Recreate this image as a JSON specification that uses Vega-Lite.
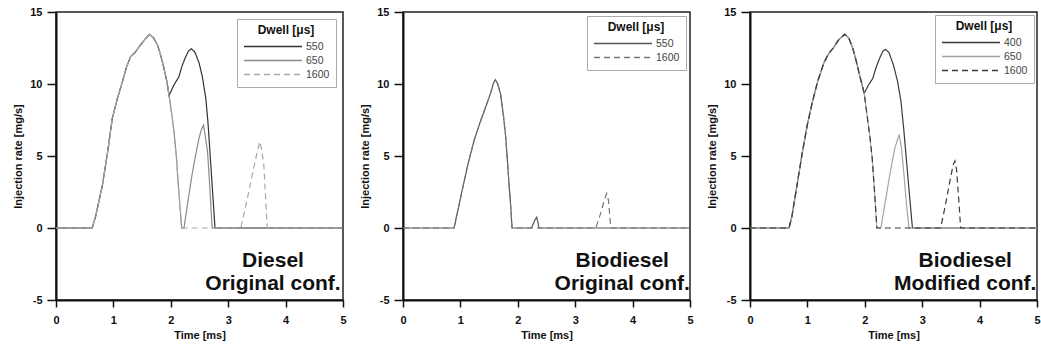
{
  "$schema": "https://vega.github.io/schema/vega-lite/v6.json",
  "background": "white",
  "padding": {"left": 12, "top": 5, "right": 2, "bottom": 2},
  "spacing": 60,
  "bounds": "flush",
  "resolve": {"scale": {"color": "independent", "strokeDash": "independent"}, "legend": {"color": "independent", "strokeDash": "independent"}},
  "datasets": {
    "diesel": [
      {"dwell":"550","time":0,"rate":0},{"dwell":"550","time":0.63,"rate":0},{"dwell":"550","time":0.69,"rate":0.8},{"dwell":"550","time":0.81,"rate":3.0},{"dwell":"550","time":0.9,"rate":5.3},{"dwell":"550","time":0.98,"rate":7.6},{"dwell":"550","time":1.07,"rate":9.0},{"dwell":"550","time":1.16,"rate":10.2},{"dwell":"550","time":1.23,"rate":11.2},{"dwell":"550","time":1.3,"rate":11.9},{"dwell":"550","time":1.38,"rate":12.2},{"dwell":"550","time":1.45,"rate":12.6},{"dwell":"550","time":1.55,"rate":13.1},{"dwell":"550","time":1.63,"rate":13.45},{"dwell":"550","time":1.7,"rate":13.2},{"dwell":"550","time":1.77,"rate":12.7},{"dwell":"550","time":1.83,"rate":11.9},{"dwell":"550","time":1.88,"rate":11.1},{"dwell":"550","time":1.93,"rate":10.2},{"dwell":"550","time":1.97,"rate":9.2},
      {"dwell":"550","time":2.05,"rate":9.9},{"dwell":"550","time":2.14,"rate":10.5},{"dwell":"550","time":2.2,"rate":11.3},{"dwell":"550","time":2.26,"rate":11.9},{"dwell":"550","time":2.31,"rate":12.3},{"dwell":"550","time":2.36,"rate":12.45},{"dwell":"550","time":2.42,"rate":12.2},{"dwell":"550","time":2.49,"rate":11.5},{"dwell":"550","time":2.55,"rate":10.5},{"dwell":"550","time":2.61,"rate":9.0},{"dwell":"550","time":2.65,"rate":7.2},{"dwell":"550","time":2.69,"rate":4.8},{"dwell":"550","time":2.73,"rate":2.4},{"dwell":"550","time":2.77,"rate":0},{"dwell":"550","time":5,"rate":0},
      {"dwell":"650","time":0,"rate":0},{"dwell":"650","time":0.63,"rate":0},{"dwell":"650","time":0.69,"rate":0.8},{"dwell":"650","time":0.81,"rate":3.0},{"dwell":"650","time":0.9,"rate":5.3},{"dwell":"650","time":0.98,"rate":7.6},{"dwell":"650","time":1.07,"rate":9.0},{"dwell":"650","time":1.16,"rate":10.2},{"dwell":"650","time":1.23,"rate":11.2},{"dwell":"650","time":1.3,"rate":11.9},{"dwell":"650","time":1.38,"rate":12.2},{"dwell":"650","time":1.45,"rate":12.6},{"dwell":"650","time":1.55,"rate":13.1},{"dwell":"650","time":1.63,"rate":13.45},{"dwell":"650","time":1.7,"rate":13.2},{"dwell":"650","time":1.77,"rate":12.7},{"dwell":"650","time":1.83,"rate":11.9},{"dwell":"650","time":1.88,"rate":11.1},{"dwell":"650","time":1.93,"rate":10.2},{"dwell":"650","time":1.97,"rate":9.2},
      {"dwell":"650","time":2.02,"rate":7.8},{"dwell":"650","time":2.06,"rate":6.5},{"dwell":"650","time":2.1,"rate":4.8},{"dwell":"650","time":2.13,"rate":3.0},{"dwell":"650","time":2.16,"rate":1.5},{"dwell":"650","time":2.19,"rate":0},{"dwell":"650","time":2.23,"rate":0},{"dwell":"650","time":2.3,"rate":1.9},{"dwell":"650","time":2.37,"rate":3.7},{"dwell":"650","time":2.43,"rate":5.0},{"dwell":"650","time":2.49,"rate":6.2},{"dwell":"650","time":2.53,"rate":6.8},{"dwell":"650","time":2.57,"rate":7.15},{"dwell":"650","time":2.6,"rate":6.4},{"dwell":"650","time":2.64,"rate":5.3},{"dwell":"650","time":2.68,"rate":2.8},{"dwell":"650","time":2.72,"rate":0},{"dwell":"650","time":5,"rate":0},
      {"dwell":"1600","time":0,"rate":0},{"dwell":"1600","time":0.63,"rate":0},{"dwell":"1600","time":0.69,"rate":0.8},{"dwell":"1600","time":0.81,"rate":3.0},{"dwell":"1600","time":0.9,"rate":5.3},{"dwell":"1600","time":0.98,"rate":7.6},{"dwell":"1600","time":1.07,"rate":9.0},{"dwell":"1600","time":1.16,"rate":10.2},{"dwell":"1600","time":1.23,"rate":11.2},{"dwell":"1600","time":1.3,"rate":11.9},{"dwell":"1600","time":1.38,"rate":12.2},{"dwell":"1600","time":1.45,"rate":12.6},{"dwell":"1600","time":1.55,"rate":13.1},{"dwell":"1600","time":1.63,"rate":13.45},{"dwell":"1600","time":1.7,"rate":13.2},{"dwell":"1600","time":1.77,"rate":12.7},{"dwell":"1600","time":1.83,"rate":11.9},{"dwell":"1600","time":1.88,"rate":11.1},{"dwell":"1600","time":1.93,"rate":10.2},{"dwell":"1600","time":1.97,"rate":9.2},
      {"dwell":"1600","time":2.02,"rate":7.8},{"dwell":"1600","time":2.06,"rate":6.5},{"dwell":"1600","time":2.1,"rate":4.8},{"dwell":"1600","time":2.13,"rate":3.0},{"dwell":"1600","time":2.16,"rate":1.5},{"dwell":"1600","time":2.19,"rate":0},{"dwell":"1600","time":3.22,"rate":0},{"dwell":"1600","time":3.32,"rate":1.8},{"dwell":"1600","time":3.42,"rate":3.7},{"dwell":"1600","time":3.49,"rate":5.0},{"dwell":"1600","time":3.55,"rate":6.0},{"dwell":"1600","time":3.58,"rate":5.5},{"dwell":"1600","time":3.62,"rate":4.4},{"dwell":"1600","time":3.65,"rate":2.2},{"dwell":"1600","time":3.68,"rate":0},{"dwell":"1600","time":5,"rate":0}
    ],
    "bioOriginal": [
      {"dwell":"550","time":0,"rate":0},{"dwell":"550","time":0.89,"rate":0},{"dwell":"550","time":0.96,"rate":1.3},{"dwell":"550","time":1.03,"rate":2.6},{"dwell":"550","time":1.13,"rate":4.4},{"dwell":"550","time":1.24,"rate":6.1},{"dwell":"550","time":1.34,"rate":7.3},{"dwell":"550","time":1.44,"rate":8.4},{"dwell":"550","time":1.52,"rate":9.3},{"dwell":"550","time":1.58,"rate":10.1},{"dwell":"550","time":1.61,"rate":10.3},{"dwell":"550","time":1.65,"rate":10.0},{"dwell":"550","time":1.7,"rate":9.3},{"dwell":"550","time":1.75,"rate":7.8},{"dwell":"550","time":1.79,"rate":6.3},{"dwell":"550","time":1.82,"rate":4.6},{"dwell":"550","time":1.85,"rate":2.9},{"dwell":"550","time":1.88,"rate":1.3},{"dwell":"550","time":1.9,"rate":0},
      {"dwell":"550","time":2.24,"rate":0},{"dwell":"550","time":2.29,"rate":0.5},{"dwell":"550","time":2.33,"rate":0.74},{"dwell":"550","time":2.35,"rate":0.4},{"dwell":"550","time":2.37,"rate":0},{"dwell":"550","time":5,"rate":0},
      {"dwell":"1600","time":0,"rate":0},{"dwell":"1600","time":0.89,"rate":0},{"dwell":"1600","time":0.96,"rate":1.3},{"dwell":"1600","time":1.03,"rate":2.6},{"dwell":"1600","time":1.13,"rate":4.4},{"dwell":"1600","time":1.24,"rate":6.1},{"dwell":"1600","time":1.34,"rate":7.3},{"dwell":"1600","time":1.44,"rate":8.4},{"dwell":"1600","time":1.52,"rate":9.3},{"dwell":"1600","time":1.58,"rate":10.1},{"dwell":"1600","time":1.61,"rate":10.3},{"dwell":"1600","time":1.65,"rate":10.0},{"dwell":"1600","time":1.7,"rate":9.3},{"dwell":"1600","time":1.75,"rate":7.8},{"dwell":"1600","time":1.79,"rate":6.3},{"dwell":"1600","time":1.82,"rate":4.6},{"dwell":"1600","time":1.85,"rate":2.9},{"dwell":"1600","time":1.88,"rate":1.3},{"dwell":"1600","time":1.9,"rate":0},
      {"dwell":"1600","time":3.36,"rate":0},{"dwell":"1600","time":3.45,"rate":1.1},{"dwell":"1600","time":3.52,"rate":2.1},{"dwell":"1600","time":3.55,"rate":2.4},{"dwell":"1600","time":3.58,"rate":1.9},{"dwell":"1600","time":3.62,"rate":0},{"dwell":"1600","time":5,"rate":0}
    ],
    "bioModified": [
      {"dwell":"400","time":0,"rate":0},{"dwell":"400","time":0.68,"rate":0},{"dwell":"400","time":0.73,"rate":0.8},{"dwell":"400","time":0.82,"rate":3.0},{"dwell":"400","time":0.91,"rate":5.2},{"dwell":"400","time":1.0,"rate":7.2},{"dwell":"400","time":1.09,"rate":8.8},{"dwell":"400","time":1.18,"rate":10.2},{"dwell":"400","time":1.29,"rate":11.5},{"dwell":"400","time":1.37,"rate":12.1},{"dwell":"400","time":1.45,"rate":12.5},{"dwell":"400","time":1.55,"rate":13.1},{"dwell":"400","time":1.65,"rate":13.45},{"dwell":"400","time":1.72,"rate":13.2},{"dwell":"400","time":1.79,"rate":12.5},{"dwell":"400","time":1.85,"rate":11.6},{"dwell":"400","time":1.91,"rate":10.6},{"dwell":"400","time":1.99,"rate":9.35},
      {"dwell":"400","time":2.06,"rate":9.9},{"dwell":"400","time":2.14,"rate":10.4},{"dwell":"400","time":2.2,"rate":11.2},{"dwell":"400","time":2.27,"rate":11.9},{"dwell":"400","time":2.32,"rate":12.3},{"dwell":"400","time":2.36,"rate":12.4},{"dwell":"400","time":2.42,"rate":12.2},{"dwell":"400","time":2.5,"rate":11.3},{"dwell":"400","time":2.57,"rate":10.2},{"dwell":"400","time":2.63,"rate":8.8},{"dwell":"400","time":2.68,"rate":6.8},{"dwell":"400","time":2.73,"rate":4.5},{"dwell":"400","time":2.78,"rate":2.2},{"dwell":"400","time":2.83,"rate":0},{"dwell":"400","time":5,"rate":0},
      {"dwell":"650","time":0,"rate":0},{"dwell":"650","time":0.68,"rate":0},{"dwell":"650","time":0.73,"rate":0.8},{"dwell":"650","time":0.82,"rate":3.0},{"dwell":"650","time":0.91,"rate":5.2},{"dwell":"650","time":1.0,"rate":7.2},{"dwell":"650","time":1.09,"rate":8.8},{"dwell":"650","time":1.18,"rate":10.2},{"dwell":"650","time":1.29,"rate":11.5},{"dwell":"650","time":1.37,"rate":12.1},{"dwell":"650","time":1.45,"rate":12.5},{"dwell":"650","time":1.55,"rate":13.1},{"dwell":"650","time":1.65,"rate":13.45},{"dwell":"650","time":1.72,"rate":13.2},{"dwell":"650","time":1.79,"rate":12.5},{"dwell":"650","time":1.85,"rate":11.6},{"dwell":"650","time":1.91,"rate":10.6},{"dwell":"650","time":1.99,"rate":9.35},
      {"dwell":"650","time":2.04,"rate":7.8},{"dwell":"650","time":2.09,"rate":6.3},{"dwell":"650","time":2.13,"rate":4.8},{"dwell":"650","time":2.17,"rate":2.5},{"dwell":"650","time":2.21,"rate":0},{"dwell":"650","time":2.28,"rate":0},{"dwell":"650","time":2.36,"rate":1.9},{"dwell":"650","time":2.44,"rate":3.8},{"dwell":"650","time":2.52,"rate":5.5},{"dwell":"650","time":2.6,"rate":6.5},{"dwell":"650","time":2.64,"rate":5.5},{"dwell":"650","time":2.68,"rate":3.8},{"dwell":"650","time":2.73,"rate":1.5},{"dwell":"650","time":2.77,"rate":0},{"dwell":"650","time":5,"rate":0},
      {"dwell":"1600","time":0,"rate":0},{"dwell":"1600","time":0.68,"rate":0},{"dwell":"1600","time":0.73,"rate":0.8},{"dwell":"1600","time":0.82,"rate":3.0},{"dwell":"1600","time":0.91,"rate":5.2},{"dwell":"1600","time":1.0,"rate":7.2},{"dwell":"1600","time":1.09,"rate":8.8},{"dwell":"1600","time":1.18,"rate":10.2},{"dwell":"1600","time":1.29,"rate":11.5},{"dwell":"1600","time":1.37,"rate":12.1},{"dwell":"1600","time":1.45,"rate":12.5},{"dwell":"1600","time":1.55,"rate":13.1},{"dwell":"1600","time":1.65,"rate":13.45},{"dwell":"1600","time":1.72,"rate":13.2},{"dwell":"1600","time":1.79,"rate":12.5},{"dwell":"1600","time":1.85,"rate":11.6},{"dwell":"1600","time":1.91,"rate":10.6},{"dwell":"1600","time":1.99,"rate":9.35},
      {"dwell":"1600","time":2.04,"rate":7.8},{"dwell":"1600","time":2.09,"rate":6.3},{"dwell":"1600","time":2.13,"rate":4.8},{"dwell":"1600","time":2.17,"rate":2.5},{"dwell":"1600","time":2.21,"rate":0},{"dwell":"1600","time":3.32,"rate":0},{"dwell":"1600","time":3.4,"rate":1.5},{"dwell":"1600","time":3.48,"rate":3.2},{"dwell":"1600","time":3.54,"rate":4.4},{"dwell":"1600","time":3.57,"rate":4.65},{"dwell":"1600","time":3.6,"rate":4.0},{"dwell":"1600","time":3.64,"rate":1.8},{"dwell":"1600","time":3.67,"rate":0},{"dwell":"1600","time":5,"rate":0}
    ]
  },
  "hconcat": [
    {
      "width": 287, "height": 288,
      "layer": [
        {
          "data": {"name": "diesel"},
          "mark": {"type": "line", "strokeWidth": 1.2},
          "encoding": {
            "x": {"field": "time", "type": "quantitative", "scale": {"domain": [0, 5], "nice": false},
                  "axis": {"title": "Time [ms]", "values": [0,0.5,1,1.5,2,2.5,3,3.5,4,4.5,5], "labelExpr": "datum.value % 1 === 0 ? toString(datum.value) : ''", "tickSize": 7, "labelPadding": 7, "titlePadding": 4}},
            "y": {"field": "rate", "type": "quantitative", "scale": {"domain": [-5, 15], "nice": false},
                  "axis": {"title": "Injection rate [mg/s]", "values": [-5,-2.5,0,2.5,5,7.5,10,12.5,15], "labelExpr": "datum.value % 5 === 0 ? toString(datum.value) : ''", "tickSize": 9, "labelPadding": 5, "titlePadding": 6}},
            "color": {"field": "dwell", "type": "nominal", "scale": {"domain": ["550","650","1600"], "range": ["#333333","#8a8a8a","#a8a8a8"]}, "legend": {"title": "Dwell [μs]", "orient": "top-right", "offset": 7}},
            "strokeDash": {"field": "dwell", "type": "nominal", "scale": {"domain": ["550","650","1600"], "range": [[1,0],[1,0],[6,4]]}, "legend": {"title": "Dwell [μs]", "orient": "top-right", "offset": 7}}
          }
        },
        {
          "data": {"values": [{}]},
          "mark": {"type": "text", "text": ["Diesel", "Original conf."], "font": "Liberation Sans", "fontSize": 21, "fontWeight": "bold", "align": "center", "baseline": "middle", "lineHeight": 23, "color": "#111"},
          "encoding": {"x": {"datum": 3.78, "type": "quantitative"}, "y": {"datum": -2.3, "type": "quantitative"}}
        }
      ]
    },
    {
      "width": 287, "height": 288,
      "layer": [
        {
          "data": {"name": "bioOriginal"},
          "mark": {"type": "line", "strokeWidth": 1.2},
          "encoding": {
            "x": {"field": "time", "type": "quantitative", "scale": {"domain": [0, 5], "nice": false},
                  "axis": {"title": "Time [ms]", "values": [0,0.5,1,1.5,2,2.5,3,3.5,4,4.5,5], "labelExpr": "datum.value % 1 === 0 ? toString(datum.value) : ''", "tickSize": 7, "labelPadding": 7, "titlePadding": 4}},
            "y": {"field": "rate", "type": "quantitative", "scale": {"domain": [-5, 15], "nice": false},
                  "axis": {"title": "Injection rate [mg/s]", "values": [-5,-2.5,0,2.5,5,7.5,10,12.5,15], "labelExpr": "datum.value % 5 === 0 ? toString(datum.value) : ''", "tickSize": 9, "labelPadding": 5, "titlePadding": 6}},
            "color": {"field": "dwell", "type": "nominal", "scale": {"domain": ["550","1600"], "range": ["#555555","#777777"]}, "legend": {"title": "Dwell [μs]", "orient": "top-right", "offset": 4}},
            "strokeDash": {"field": "dwell", "type": "nominal", "scale": {"domain": ["550","1600"], "range": [[1,0],[6,4]]}, "legend": {"title": "Dwell [μs]", "orient": "top-right", "offset": 4}}
          }
        },
        {
          "data": {"values": [{}]},
          "mark": {"type": "text", "text": ["Biodiesel", "Original conf."], "font": "Liberation Sans", "fontSize": 21, "fontWeight": "bold", "align": "center", "baseline": "middle", "lineHeight": 23, "color": "#111"},
          "encoding": {"x": {"datum": 3.82, "type": "quantitative"}, "y": {"datum": -2.3, "type": "quantitative"}}
        }
      ]
    },
    {
      "width": 287, "height": 288,
      "layer": [
        {
          "data": {"name": "bioModified"},
          "mark": {"type": "line", "strokeWidth": 1.2},
          "encoding": {
            "x": {"field": "time", "type": "quantitative", "scale": {"domain": [0, 5], "nice": false},
                  "axis": {"title": "Time [ms]", "values": [0,0.5,1,1.5,2,2.5,3,3.5,4,4.5,5], "labelExpr": "datum.value % 1 === 0 ? toString(datum.value) : ''", "tickSize": 7, "labelPadding": 7, "titlePadding": 4}},
            "y": {"field": "rate", "type": "quantitative", "scale": {"domain": [-5, 15], "nice": false},
                  "axis": {"title": "Injection rate [mg/s]", "values": [-5,-2.5,0,2.5,5,7.5,10,12.5,15], "labelExpr": "datum.value % 5 === 0 ? toString(datum.value) : ''", "tickSize": 9, "labelPadding": 5, "titlePadding": 6}},
            "color": {"field": "dwell", "type": "nominal", "scale": {"domain": ["400","650","1600"], "range": ["#3a3a3a","#a5a5a5","#3a3a3a"]}, "legend": {"title": "Dwell [μs]", "orient": "top-right", "offset": 3}},
            "strokeDash": {"field": "dwell", "type": "nominal", "scale": {"domain": ["400","650","1600"], "range": [[1,0],[1,0],[6,4]]}, "legend": {"title": "Dwell [μs]", "orient": "top-right", "offset": 3}}
          }
        },
        {
          "data": {"values": [{}]},
          "mark": {"type": "text", "text": ["Biodiesel", "Modified conf."], "font": "Liberation Sans", "fontSize": 21, "fontWeight": "bold", "align": "center", "baseline": "middle", "lineHeight": 23, "color": "#111"},
          "encoding": {"x": {"datum": 3.75, "type": "quantitative"}, "y": {"datum": -2.3, "type": "quantitative"}}
        }
      ]
    }
  ],
  "config": {
    "font": "Liberation Sans",
    "view": {"stroke": "#222222", "strokeWidth": 1.5},
    "axis": {
      "domainColor": "#111111", "domainWidth": 2, "tickColor": "#111111", "tickWidth": 1.5,
      "labelFont": "Liberation Sans", "labelFontSize": 11, "labelFontWeight": "bold", "labelColor": "#111111",
      "titleFont": "Liberation Sans", "titleFontSize": 11, "titleFontWeight": "bold", "titleColor": "#111111",
      "grid": false, "labelOverlap": false, "labelFlush": false, "labelBound": false
    },
    "legend": {
      "strokeColor": "#aaaaaa", "fillColor": "white", "padding": 6,
      "titleFont": "Liberation Sans", "titleFontSize": 12, "titleFontWeight": "bold", "titleColor": "#111111",
      "titleAnchor": "middle", "titlePadding": 3,
      "labelFont": "Liberation Sans", "labelFontSize": 10.5, "labelColor": "#444444", "labelOffset": 3,
      "symbolType": "stroke", "symbolSize": 3364, "symbolStrokeWidth": 1.3, "clipHeight": 13, "rowPadding": 1
    }
  }
}
